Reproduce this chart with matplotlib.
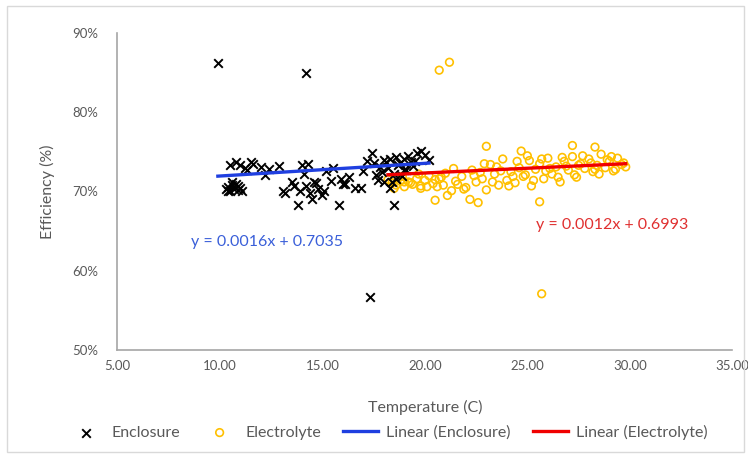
import matplotlib.pyplot as plt
import matplotlib.patches as mpatches
import numpy as np

# values
enc_x = [9.9, 14.2, 17.3, 18.5,
         10.3, 10.4, 10.5, 10.6, 10.7, 10.8, 10.9, 11.0, 11.1, 10.5, 10.8, 11.2, 10.6, 10.9,
         10.4, 11.0, 11.3, 11.6, 12.0, 12.4, 12.9, 13.1, 13.5, 13.8, 14.0, 14.2, 14.4, 14.6,
         14.8, 15.0, 15.2, 15.5, 15.8, 16.0, 16.3, 16.6, 16.9, 17.2, 17.4, 17.6, 17.8, 18.0,
         18.1, 18.3, 18.5, 18.6, 18.8, 19.0, 19.2, 19.4, 19.6, 19.8, 20.0, 20.2, 13.2, 13.6,
         14.1, 14.3, 14.5, 14.7, 15.1, 15.4, 16.1, 17.0, 17.7, 17.9, 18.2, 18.4, 18.7, 18.9,
         19.1, 19.3, 19.5, 15.9, 13.9, 12.2, 11.5, 18.0, 18.6, 19.0, 17.5, 18.3]
enc_y = [0.862, 0.850, 0.567, 0.683,
         0.703, 0.706, 0.700, 0.708, 0.703, 0.710, 0.702, 0.705, 0.700, 0.733, 0.737, 0.730, 0.712, 0.707,
         0.701, 0.733, 0.727, 0.735, 0.731, 0.728, 0.732, 0.701, 0.712, 0.683, 0.734, 0.707, 0.698, 0.712,
         0.703, 0.695, 0.726, 0.730, 0.683, 0.709, 0.718, 0.705, 0.704, 0.738, 0.748, 0.721, 0.731, 0.740,
         0.737, 0.741, 0.722, 0.743, 0.736, 0.741, 0.745, 0.732, 0.748, 0.751, 0.746, 0.740, 0.698, 0.707,
         0.722, 0.735, 0.690, 0.711, 0.701, 0.713, 0.710, 0.726, 0.715, 0.724, 0.729, 0.712, 0.733, 0.719,
         0.727, 0.737, 0.739, 0.716, 0.700, 0.721, 0.737, 0.712, 0.716, 0.727, 0.736, 0.704]

ele_x = [20.7, 21.2, 25.7, 20.5, 22.2, 25.6, 22.6,
         18.2, 18.4, 18.6, 18.8, 19.0, 19.2, 19.4, 19.6, 19.8, 20.0, 20.2, 20.4, 20.6, 20.8,
         21.0, 21.3, 21.5, 21.8, 22.0, 22.3, 22.5, 22.8, 23.0, 23.2, 23.4, 23.6, 23.8, 24.0,
         24.2, 24.4, 24.6, 24.8, 25.0, 25.2, 25.4, 25.6, 25.8, 26.0, 26.2, 26.4, 26.6, 26.8,
         27.0, 27.2, 27.4, 27.6, 27.8, 28.0, 28.2, 28.4, 28.6, 28.8, 29.0, 29.2, 29.4, 29.6,
         29.8, 18.5, 18.9, 19.3, 19.7, 20.1, 20.5, 20.9, 21.4, 21.9, 22.4, 22.9, 23.3, 23.7,
         24.1, 24.5, 24.9, 25.3, 25.7, 26.1, 26.5, 26.9, 27.3, 27.7, 28.1, 28.5, 28.9, 29.3,
         29.7, 19.0, 19.8, 20.7, 21.6, 22.7, 23.5, 24.3, 25.1, 25.9, 26.7, 27.5, 28.3, 29.1,
         23.0, 27.2, 28.3, 24.7, 21.1]
ele_y = [0.853, 0.863, 0.571, 0.689, 0.690, 0.687, 0.686,
         0.715, 0.711, 0.708, 0.713, 0.706, 0.712, 0.709, 0.716, 0.707, 0.714, 0.720, 0.710, 0.706, 0.718,
         0.723, 0.701, 0.713, 0.719, 0.705, 0.727, 0.712, 0.716, 0.702, 0.734, 0.722, 0.708, 0.741, 0.714,
         0.725, 0.711, 0.730, 0.719, 0.745, 0.707, 0.728, 0.735, 0.716, 0.742, 0.722, 0.731, 0.712, 0.738,
         0.727, 0.744, 0.718, 0.735, 0.729, 0.741, 0.725, 0.733, 0.747, 0.730, 0.738, 0.726, 0.742, 0.734,
         0.731, 0.704, 0.719, 0.711, 0.722, 0.706, 0.715, 0.708, 0.729, 0.703, 0.720, 0.735, 0.712, 0.726,
         0.707, 0.738, 0.721, 0.714, 0.741, 0.729, 0.718, 0.732, 0.721, 0.745, 0.736, 0.722, 0.740, 0.728,
         0.736, 0.712, 0.704, 0.716, 0.709, 0.724, 0.731, 0.719, 0.739, 0.726, 0.743, 0.733, 0.728, 0.744,
         0.757, 0.758, 0.756, 0.751, 0.695]

# trendline coefficients shown on the chart
enc_fit = (0.0016, 0.7035)
ele_fit = (0.0012, 0.6993)

grey = '#595959'
plt.rcParams['font.family'] = ['Lato', 'DejaVu Sans']

fig = plt.figure(figsize=(7.48, 4.57), dpi=100)
ax = fig.add_axes([0.157, 0.234, 0.822, 0.694])

ax.scatter(enc_x, enc_y, marker='x', s=38, color='black', linewidths=1.4,
           label='Enclosure', zorder=3)
ax.scatter(ele_x, ele_y, marker='o', s=30, facecolors='none', edgecolors='#FFC000',
           linewidths=1.2, label='Electrolyte', zorder=2)

xe = np.array([min(enc_x), max(enc_x)])
ax.plot(xe, enc_fit[0] * xe + enc_fit[1], color='#1F3FE0', lw=2.4,
        label='Linear (Enclosure)', zorder=4)
xl = np.array([min(ele_x), max(ele_x)])
ax.plot(xl, ele_fit[0] * xl + ele_fit[1], color='#F00000', lw=2.4,
        label='Linear (Electrolyte)', zorder=4)

ax.text(8.6, 0.636, 'y = 0.0016x + 0.7035', color='#3A5FD9', fontsize=11.5, va='center')
ax.text(25.4, 0.658, 'y = 0.0012x + 0.6993', color='#E03030', fontsize=11.5, va='center')

ax.set_xlim(5, 35)
ax.set_ylim(0.5, 0.9)
ax.set_xticks(np.arange(5, 36, 5))
ax.set_xticklabels(['%.2f' % v for v in np.arange(5, 36, 5)])
ax.set_yticks(np.arange(0.5, 0.91, 0.1))
ax.set_yticklabels(['%d%%' % round(v * 100) for v in np.arange(0.5, 0.91, 0.1)])
ax.tick_params(length=0, labelsize=9.5, colors=grey)
ax.tick_params(axis='x', pad=7)
ax.tick_params(axis='y', pad=14)

for s in ['top', 'right']:
    ax.spines[s].set_visible(False)
for s in ['left', 'bottom']:
    ax.spines[s].set_color('#A6A6A6')
    ax.spines[s].set_linewidth(1.2)

ax.set_xlabel('Temperature (C)', fontsize=11.5, color=grey, labelpad=20)
ax.set_ylabel('Efficiency (%)', fontsize=11.5, color=grey, labelpad=12)

leg = ax.legend(loc='upper center', bbox_to_anchor=(0.44, -0.19), ncol=4, frameon=False,
                fontsize=11.5, handlelength=2.2, columnspacing=1.4, handletextpad=0.5)
for t in leg.get_texts():
    t.set_color(grey)

fig.patches.append(mpatches.Rectangle((0.01, 0.012), 0.985, 0.975, transform=fig.transFigure,
                                      fill=False, edgecolor='#D9D9D9', lw=1))

fig.savefig('out.png', dpi=100)
